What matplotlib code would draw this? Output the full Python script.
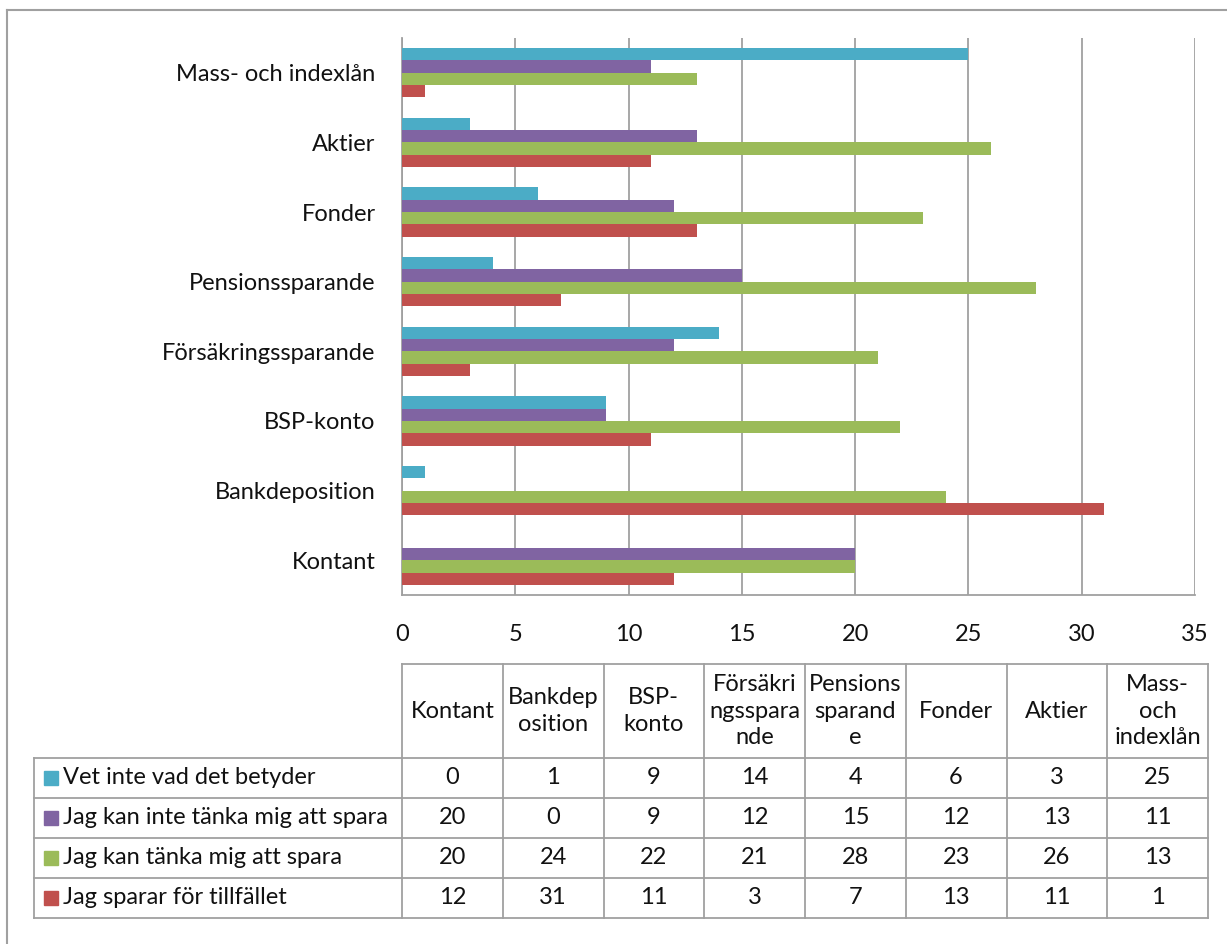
import matplotlib
matplotlib.use("Agg")
import matplotlib.pyplot as plt
from matplotlib.patches import Rectangle

plt.rcParams['font.family'] = ['Lato', 'DejaVu Sans']

# ---- data ----
categories = ["Kontant", "Bankdeposition", "BSP-konto", "Försäkringssparande",
              "Pensionssparande", "Fonder", "Aktier", "Mass- och indexlån"]
header_labels = ["Kontant", "Bankdep\nosition", "BSP-\nkonto", "Försäkri\nngsspara\nnde",
                 "Pensions\nsparand\ne", "Fonder", "Aktier", "Mass-\noch\nindexlån"]
series_names = ["Vet inte vad det betyder", "Jag kan inte tänka mig att spara",
                "Jag kan tänka mig att spara", "Jag sparar för tillfället"]
vet_inte = [0, 1, 9, 14, 4, 6, 3, 25]
kan_inte = [20, 0, 9, 12, 15, 12, 13, 11]
kan_tanka = [20, 24, 22, 21, 28, 23, 26, 13]
sparar = [12, 31, 11, 3, 7, 13, 11, 1]
series_values = [vet_inte, kan_inte, kan_tanka, sparar]
colors = ["#4BACC6", "#8064A2", "#9BBB59", "#C0504D"]
xticks = [0, 5, 10, 15, 20, 25, 30, 35]

W, H = 1227, 944
fig = plt.figure(figsize=(W / 100, H / 100), dpi=100)

ax_l, ax_r, ax_t, ax_b = 402, 1195, 38, 595
ax = fig.add_axes([ax_l / W, 1 - ax_b / H, (ax_r - ax_l) / W, (ax_b - ax_t) / H])

fs = 17
tc = '#111111'

n = len(categories)
bar_h = 0.177
for s, (vals, col) in enumerate(zip(series_values, colors)):
    offs = (1.5 - s) * bar_h
    ax.barh([i + offs for i in range(n)], vals, height=bar_h, color=col,
            edgecolor='none', zorder=3)

ax.set_xlim(0, 35)
ax.set_ylim(-0.5, n - 0.5)
ax.set_xticks(xticks)
ax.set_xticklabels([str(t) for t in xticks])
ax.set_yticks(range(n))
ax.set_yticklabels(categories)
ax.tick_params(axis='x', length=0, pad=21, labelsize=fs, colors=tc)
ax.tick_params(axis='y', length=0, pad=19, labelsize=fs, colors=tc)
ax.xaxis.grid(True, color='#A0A0A0', lw=1.3, zorder=0)
for sp in ['top', 'right']:
    ax.spines[sp].set_visible(False)
for sp in ['left', 'bottom']:
    ax.spines[sp].set_color('#A0A0A0')
    ax.spines[sp].set_linewidth(1.3)

# ---- overlay for table and frame (pixel coordinates) ----
ov = fig.add_axes([0, 0, 1, 1], zorder=5)
ov.set_xlim(0, W)
ov.set_ylim(H, 0)
ov.axis('off')
ov.patch.set_alpha(0)

lc = '#A0A0A0'
lw = 1.3
# outer frame (top and left)
ov.plot([7, W], [10, 10], color='#A0A0A0', lw=1.5)
ov.plot([7, 7], [10, H], color='#A0A0A0', lw=1.5)

tab_left = 34
col_left = 402
col_w = 100.75
head_top = 664
head_bot = 758
row_h = 40
nrows = len(series_names)
tab_bot = head_bot + nrows * row_h
col_right = col_left + n * col_w

# horizontal lines
ov.plot([col_left, col_right], [head_top, head_top], color=lc, lw=lw)
for r in range(nrows + 1):
    y = head_bot + r * row_h
    ov.plot([tab_left, col_right], [y, y], color=lc, lw=lw)
# vertical lines
ov.plot([tab_left, tab_left], [head_bot, tab_bot], color=lc, lw=lw)
for c in range(n + 1):
    x = col_left + c * col_w
    ov.plot([x, x], [head_top, tab_bot], color=lc, lw=lw)

# header texts
for c, lab in enumerate(header_labels):
    ov.text(col_left + (c + 0.5) * col_w, (head_top + head_bot) / 2, lab,
            ha='center', va='center', fontsize=fs, linespacing=1.3, color=tc)

# rows
for r, (name, vals, col) in enumerate(zip(series_names, series_values, colors)):
    yc = head_bot + (r + 0.5) * row_h
    ov.add_patch(Rectangle((44, yc - 7), 14, 14, color=col))
    ov.text(63, yc, name, ha='left', va='center', fontsize=fs, color=tc)
    for c, v in enumerate(vals):
        ov.text(col_left + (c + 0.5) * col_w, yc, str(v), ha='center', va='center',
                fontsize=fs, color=tc)

fig.savefig("out.png", dpi=100, facecolor='white')
